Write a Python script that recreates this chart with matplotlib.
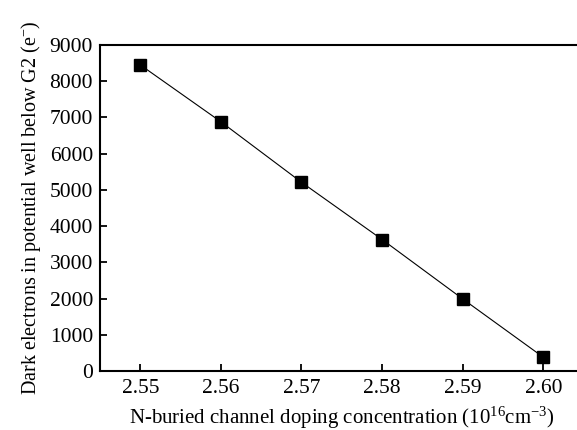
import matplotlib
matplotlib.use("Agg")
import matplotlib.pyplot as plt

plt.rcParams['font.family'] = 'Liberation Serif'
plt.rcParams['mathtext.fontset'] = 'custom'
plt.rcParams['mathtext.rm'] = 'Liberation Serif'
plt.rcParams['mathtext.it'] = 'Liberation Serif:italic'

doping = [2.55, 2.56, 2.57, 2.58, 2.59, 2.60]
electrons = [8450, 6880, 5210, 3630, 1990, 380]
xticks = [2.55, 2.56, 2.57, 2.58, 2.59, 2.60]
xticklabels = ['2.55', '2.56', '2.57', '2.58', '2.59', '2.60']
yticks = [0, 1000, 2000, 3000, 4000, 5000, 6000, 7000, 8000, 9000]

fig = plt.figure(figsize=(5.77, 4.30), dpi=100)
ax = fig.add_axes([100/577, 59/430, 483.6/577, 326/430])

ax.plot(doping, electrons, color='black', lw=0.8, marker='s', markersize=8)

ax.set_xlim(2.545, 2.605)
ax.set_ylim(0, 9000)
ax.set_xticks(xticks)
ax.set_xticklabels(xticklabels)
ax.set_yticks(yticks)
ax.tick_params(direction='in', length=5, width=1.3, labelsize=15.5)
ax.tick_params(axis='x', pad=6)
ax.tick_params(axis='y', pad=5)
for s in ['left', 'bottom', 'top']:
    ax.spines[s].set_linewidth(1.5)
ax.spines['right'].set_visible(False)

ax.set_xlabel('N-buried channel doping concentration (10$^{16}$cm$^{-3}$)', fontsize=15, labelpad=5)
ax.set_ylabel('Dark electrons in potential well below G2 (e$^{-}$)', fontsize=14.5, labelpad=5)

fig.savefig('out.png', dpi=100)
